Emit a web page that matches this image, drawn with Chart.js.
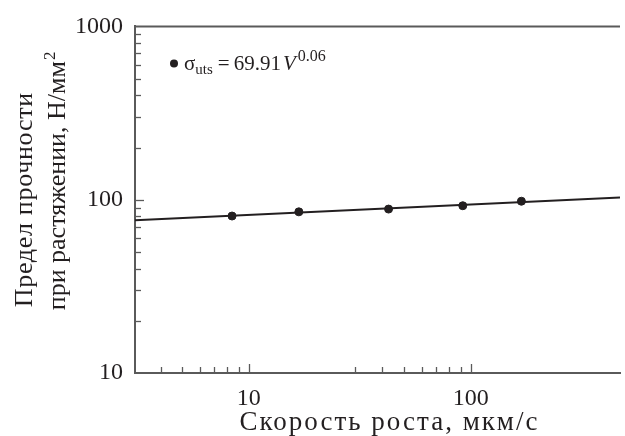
<!DOCTYPE html>
<html lang="ru">
<head>
    <meta charset="UTF-8">
    <title>Предел прочности</title>
    <style>
        html, body { margin: 0; padding: 0; background: #fff; }
        .chart-container { width: 625px; height: 436px; }
    </style>
</head>
<body>
<div class="chart-container">
    <canvas id="chart"></canvas>
</div>

<script src="https://cdn.jsdelivr.net/npm/chart.js@4.4.1/dist/chart.umd.min.js"></script>
<script>
    // measured points
    const speeds = [8.4, 16.8, 42.6, 92, 169];
    const strengths = [80.5, 85.1, 88.3, 92.3, 98];

    // fitted line, read at the plot edges
    const fitSpeeds = [3.07, 470];
    const fitStrengths = [76, 103];

    const xRange = [3.07, 470];
    const yRange = [10, 1000];

    const xTicks = [4, 5, 6, 7, 8, 9, 10, 30, 40, 50, 60, 70, 80, 90, 100];
    const xLabels = [10, 100];
    const yTicks = [20, 30, 40, 50, 60, 70, 80, 90, 100, 200, 300, 400, 500, 600, 700, 800, 900];
    const yLabels = [10, 100, 1000];

    const xTitle = 'Скорость роста, мкм/с';
    const yTitle = ['Предел прочности', 'при растяжении, Н/мм', '2'];

    const ink = '#231f20';
    const axisColor = '#5a5a5a';
    const serif = "'Liberation Serif', 'DejaVu Serif', serif";

    // inward tick marks, top frame line, axis titles and the legend
    const decorations = {
        id: 'decorations',
        afterDraw(chart) {
            const ctx = chart.ctx;
            const area = chart.chartArea;
            const x = chart.scales.x;
            const y = chart.scales.y;
            ctx.save();
            ctx.strokeStyle = axisColor;
            ctx.lineWidth = 2;

            ctx.beginPath();
            ctx.moveTo(area.left, area.top);
            ctx.lineTo(area.right, area.top);
            ctx.stroke();

            ctx.lineWidth = 1.3;
            for (const v of xTicks) {
                const px = Math.round(x.getPixelForValue(v)) + 0.5;
                const len = xLabels.includes(v) ? 9 : 6;
                ctx.beginPath();
                ctx.moveTo(px, area.bottom);
                ctx.lineTo(px, area.bottom - len);
                ctx.stroke();
            }
            for (const v of yTicks) {
                const py = Math.round(y.getPixelForValue(v)) + 0.5;
                const len = yLabels.includes(v) ? 9 : 6;
                ctx.beginPath();
                ctx.moveTo(area.left, py);
                ctx.lineTo(area.left + len, py);
                ctx.stroke();
            }

            ctx.fillStyle = ink;
            ctx.textBaseline = 'alphabetic';

            // x title, spaced out like the original
            ctx.font = '27px ' + serif;
            ctx.letterSpacing = '2px';
            ctx.textAlign = 'center';
            ctx.fillText(xTitle, (area.left + area.right) / 2 + 12, chart.height - 6);

            // y title, two rotated lines sharing the same start
            const midY = (area.top + area.bottom) / 2;
            ctx.save();
            ctx.translate(0, midY);
            ctx.rotate(-Math.PI / 2);
            ctx.font = '26px ' + serif;
            ctx.letterSpacing = '0.7px';
            ctx.textAlign = 'center';
            ctx.fillText(yTitle[0], 0, 32);
            const start = -ctx.measureText(yTitle[0]).width / 2 - 3;
            ctx.letterSpacing = '0px';
            ctx.textAlign = 'left';
            ctx.fillText(yTitle[1], start, 65);
            const w = ctx.measureText(yTitle[1]).width;
            ctx.font = '17px ' + serif;
            ctx.fillText(yTitle[2], start + w + 1, 55);
            ctx.restore();
            ctx.letterSpacing = '0px';

            // legend
            const lx = area.left + 39;
            const ly = area.top + 37;
            ctx.beginPath();
            ctx.arc(lx, ly, 4, 0, Math.PI * 2);
            ctx.fill();

            ctx.textAlign = 'left';
            let tx = lx + 10;
            const base = ly + 7;
            // text, size, baseline shift, style, gap after
            const parts = [
                ['σ', 21, 0, '', 0],
                ['uts', 15, 4, '', 5],
                ['=', 21, 0, '', 4],
                ['69.91', 21, 0, '', 2],
                ['V', 21, 0, 'italic ', 2],
                ['0.06', 16, -9, '', 0]
            ];
            for (const [text, size, dy, style, gap] of parts) {
                ctx.font = style + size + 'px ' + serif;
                ctx.fillText(text, tx, base + dy);
                tx += ctx.measureText(text).width + gap;
            }
            ctx.restore();
        }
    };

    function keepTicks(values) {
        return function (scale) {
            scale.ticks = values.map(v => ({ value: v }));
        };
    }

    const ctx = document.getElementById('chart').getContext('2d');
    const chart = new Chart(ctx, {
        type: 'scatter',
        data: {
            datasets: [{
                label: 'Аппроксимация',
                data: fitSpeeds.map((v, i) => ({ x: v, y: fitStrengths[i] })),
                showLine: true,
                borderColor: ink,
                borderWidth: 2,
                pointRadius: 0,
                order: 2
            }, {
                label: 'σuts',
                data: speeds.map((v, i) => ({ x: v, y: strengths[i] })),
                backgroundColor: ink,
                borderColor: ink,
                pointRadius: 4,
                order: 1
            }]
        },
        options: {
            responsive: true,
            maintainAspectRatio: false,
            animation: false,
            layout: { padding: { top: 23, right: 0, bottom: 0, left: 0 } },
            plugins: {
                legend: { display: false },
                tooltip: { enabled: false }
            },
            scales: {
                x: {
                    type: 'logarithmic',
                    min: xRange[0],
                    max: xRange[1],
                    afterBuildTicks: keepTicks(xLabels),
                    afterFit(scale) { scale.height = 63; },
                    grid: { display: false, drawTicks: false },
                    border: { display: true, color: axisColor, width: 2 },
                    ticks: {
                        color: ink,
                        padding: 11,
                        maxRotation: 0,
                        font: { family: serif, size: 24 },
                        callback: v => String(v)
                    }
                },
                y: {
                    type: 'logarithmic',
                    min: yRange[0],
                    max: yRange[1],
                    afterBuildTicks: keepTicks(yLabels),
                    afterFit(scale) { scale.width = 135; },
                    grid: { display: false, drawTicks: false },
                    border: { display: true, color: axisColor, width: 2 },
                    ticks: {
                        color: ink,
                        padding: 12,
                        font: { family: serif, size: 24 },
                        callback: v => String(v)
                    }
                }
            }
        },
        plugins: [decorations]
    });
</script>
</body>
</html>
